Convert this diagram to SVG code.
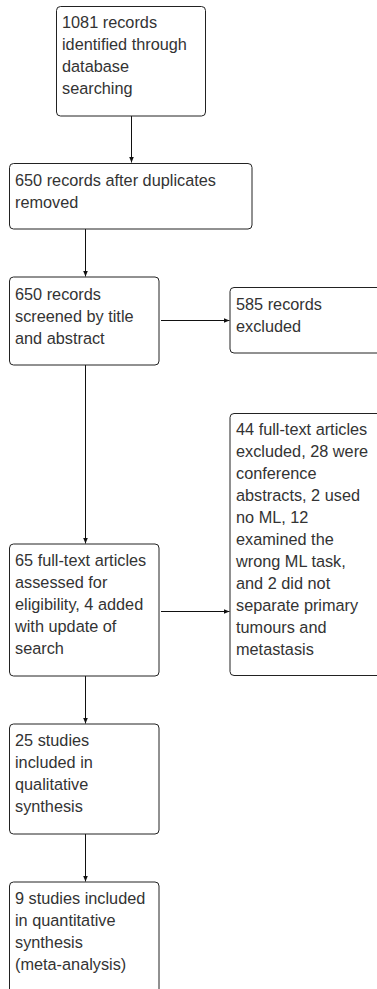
<svg xmlns="http://www.w3.org/2000/svg" width="377" height="989" viewBox="0 0 377 989">
<style>
.box{fill:#fff;stroke:#222;stroke-width:1}
.t{font-family:"Liberation Sans",Arial,sans-serif;font-size:16.3px;fill:#333}
.c{stroke:#111;stroke-width:1;fill:none}
</style>
<defs>
<marker id="ah" viewBox="0 0 6 6" refX="6" refY="3" markerWidth="6" markerHeight="6" markerUnits="userSpaceOnUse" orient="auto">
<path d="M0,0.5 L6,3 L0,5.5 Z" fill="#111"/>
</marker>
</defs>
<rect width="377" height="989" fill="#fff"/>
<g id="connectors">
<line class="c" x1="131.5" y1="116" x2="131.5" y2="162.5" marker-end="url(#ah)"/>
<line class="c" x1="85.5" y1="229" x2="85.5" y2="276.5" marker-end="url(#ah)"/>
<line class="c" x1="161" y1="320.5" x2="229.5" y2="320.5" marker-end="url(#ah)"/>
<line class="c" x1="85.5" y1="365" x2="85.5" y2="543.5" marker-end="url(#ah)"/>
<line class="c" x1="161" y1="611.5" x2="229.5" y2="611.5" marker-end="url(#ah)"/>
<line class="c" x1="85.5" y1="676" x2="85.5" y2="723.5" marker-end="url(#ah)"/>
<line class="c" x1="85.5" y1="834" x2="85.5" y2="881.5" marker-end="url(#ah)"/>
</g>
<g id="n1">
<rect class="box" x="56.5" y="6.5" width="149" height="109.5" rx="4"/>
<text class="t" x="62" y="28">1081 records</text>
<text class="t" x="62" y="50">identified through</text>
<text class="t" x="62" y="72">database</text>
<text class="t" x="62" y="94">searching</text>
</g>
<g id="n2">
<rect class="box" x="9.5" y="163.5" width="242.5" height="65.5" rx="4"/>
<text class="t" x="15" y="186">650 records after duplicates</text>
<text class="t" x="15" y="208">removed</text>
</g>
<g id="n3">
<rect class="box" x="9.5" y="277" width="149.5" height="88" rx="4"/>
<text class="t" x="15" y="300">650 records</text>
<text class="t" x="15" y="322">screened by title</text>
<text class="t" x="15" y="344">and abstract</text>
</g>
<g id="n4">
<rect class="box" x="230" y="287.5" width="152" height="65.5" rx="4"/>
<text class="t" x="236" y="310">585 records</text>
<text class="t" x="236" y="332">excluded</text>
</g>
<g id="n5">
<rect class="box" x="230" y="413.5" width="152" height="262" rx="4"/>
<text class="t" x="236" y="435">44 full-text articles</text>
<text class="t" x="236" y="457">excluded, 28 were</text>
<text class="t" x="236" y="479">conference</text>
<text class="t" x="236" y="501">abstracts, 2 used</text>
<text class="t" x="236" y="523">no ML, 12</text>
<text class="t" x="236" y="545">examined the</text>
<text class="t" x="236" y="567">wrong ML task,</text>
<text class="t" x="236" y="589">and 2 did not</text>
<text class="t" x="236" y="611">separate primary</text>
<text class="t" x="236" y="633">tumours and</text>
<text class="t" x="236" y="655">metastasis</text>
</g>
<g id="n6">
<rect class="box" x="9.5" y="544" width="149.5" height="132" rx="4"/>
<text class="t" x="15" y="566">65 full-text articles</text>
<text class="t" x="15" y="588">assessed for</text>
<text class="t" x="15" y="610">eligibility, 4 added</text>
<text class="t" x="15" y="632">with update of</text>
<text class="t" x="15" y="654">search</text>
</g>
<g id="n7">
<rect class="box" x="9.5" y="724" width="149.5" height="110" rx="4"/>
<text class="t" x="15" y="746">25 studies</text>
<text class="t" x="15" y="768">included in</text>
<text class="t" x="15" y="790">qualitative</text>
<text class="t" x="15" y="812">synthesis</text>
</g>
<g id="n8">
<rect class="box" x="9.5" y="882" width="149.5" height="120" rx="4"/>
<text class="t" x="15" y="904">9 studies included</text>
<text class="t" x="15" y="926">in quantitative</text>
<text class="t" x="15" y="948">synthesis</text>
<text class="t" x="15" y="970">(meta-analysis)</text>
</g>
</svg>
